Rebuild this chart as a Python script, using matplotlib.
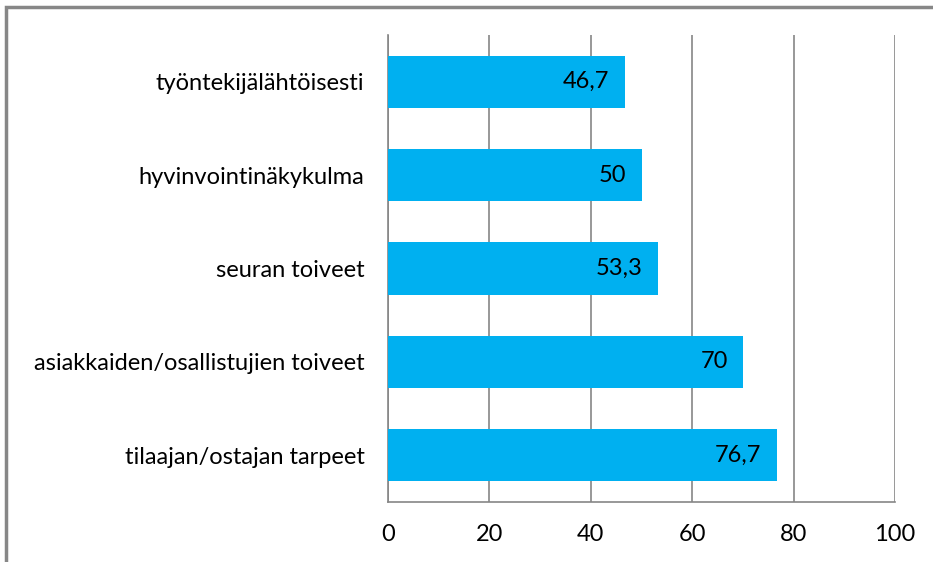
import matplotlib.pyplot as plt
from matplotlib.patches import Rectangle

# data, bottom to top as drawn
categories = ["tilaajan/ostajan tarpeet", "asiakkaiden/osallistujien toiveet",
              "seuran toiveet", "hyvinvointinäkykulma", "työntekijälähtöisesti"]
values = [76.7, 70, 53.3, 50, 46.7]
value_labels = ["76,7", "70", "53,3", "50", "46,7"]
xticks = [0, 20, 40, 60, 80, 100]

BAR_COLOR = "#00B0F0"
GRID_COLOR = "#868686"
FS = 17

plt.rcParams['font.family'] = ['Lato', 'DejaVu Sans']

fig = plt.figure(figsize=(9.33, 5.62), dpi=100)
ax = fig.add_axes([0.4159, 0.1068, 0.9593 - 0.4159, 0.9377 - 0.1068])

pos = list(range(len(categories)))
ax.barh(pos, values, height=0.56, color=BAR_COLOR, zorder=3)
for p, v, lab in zip(pos, values, value_labels):
    ax.annotate(lab, xy=(v, p), xytext=(-11, 0), textcoords="offset points",
                ha="right", va="center", fontsize=FS, color="black", zorder=4)

ax.set_xlim(0, 100)
ax.set_ylim(-0.5, len(categories) - 0.5)
ax.set_xticks(xticks)
ax.set_xticklabels([str(t) for t in xticks], fontsize=FS)
ax.set_yticks(pos)
ax.set_yticklabels(categories, fontsize=FS)
ax.tick_params(axis="x", length=0, pad=16)
ax.tick_params(axis="y", length=0, pad=17)

ax.grid(axis="x", color=GRID_COLOR, linewidth=1.2, zorder=0)
ax.spines["top"].set_visible(False)
ax.spines["right"].set_visible(False)
for s in ("left", "bottom"):
    ax.spines[s].set_color(GRID_COLOR)
    ax.spines[s].set_linewidth(1.2)

# outer chart border (only top and left visible in the crop)
fig.patches.append(Rectangle((6 / 933, -0.1), 1.2, 1 - 7 / 562 + 0.1,
                             transform=fig.transFigure, fill=False,
                             edgecolor="#878787", linewidth=2.5))

fig.savefig("out.png", dpi=100)
